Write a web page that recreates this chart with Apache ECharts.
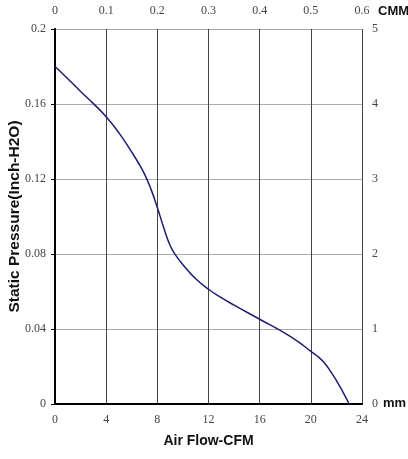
<!DOCTYPE html>
<html>
<head>
<meta charset="utf-8">
<script src="https://cdn.jsdelivr.net/npm/echarts@6/dist/echarts.min.js"></script>
<style>
html, body { margin: 0; padding: 0; background: #fff; }
#main { width: 408px; height: 459px; }
</style>
</head>
<body>
<div id="main"></div>
<script>
// 风量 (CFM) / 静压 (Inch-H2O)
var flowCfm  = [0, 1, 2, 3, 4, 5, 6, 6.5, 7, 7.5, 8, 8.5, 9, 9.5, 10, 11, 12, 13, 14, 16, 18, 19, 20, 20.5, 21, 21.5, 22, 22.5, 23];
var pressure = [0.18, 0.1735, 0.1667, 0.1602, 0.1532, 0.1446, 0.1343, 0.1288, 0.1226, 0.1146, 0.1048, 0.094, 0.0845, 0.0787, 0.0743, 0.0668, 0.0612, 0.0567, 0.0527, 0.0452, 0.0377, 0.0333, 0.0281, 0.0256, 0.0224, 0.0178, 0.0125, 0.0065, 0];

var serif = '"Liberation Serif", "DejaVu Serif", serif';
var sans = '"Liberation Sans", Arial, sans-serif';

function chart(id) {
    var myChart = echarts.init(document.getElementById(id));
    var data = [];
    for (var i = 0; i < flowCfm.length; i++) {
        data.push([flowCfm[i], pressure[i]]);
    }
    var labelStyle = { fontFamily: serif, fontSize: 12, color: '#444' };
    var option = {
        animation: false,
        grid: { left: 55, right: 46, top: 29, bottom: 55, outerBoundsMode: 'none' },
        xAxis: [
            {
                type: 'value', position: 'bottom',
                min: 0, max: 24, interval: 4,
                name: 'Air Flow-CFM', nameLocation: 'middle', nameGap: 30, nameMoveOverlap: false,
                nameTextStyle: { fontFamily: sans, fontWeight: 'bold', fontSize: 14, color: '#111' },
                axisLine: { show: true, lineStyle: { color: '#000', width: 2 } },
                axisTick: { show: false },
                axisLabel: Object.assign({ margin: 10 }, labelStyle),
                splitLine: { show: true, lineStyle: { color: '#444', width: 1 } }
            },
            {
                type: 'value', position: 'top',
                min: 0, max: 0.6, interval: 0.1,
                axisLine: { show: true, lineStyle: { color: '#000', width: 1.5 } },
                axisTick: { show: false },
                axisLabel: Object.assign({ margin: 12 }, labelStyle),
                splitLine: { show: false }
            }
        ],
        yAxis: [
            {
                type: 'value', position: 'left',
                min: 0, max: 0.2, interval: 0.04,
                name: 'Static Pressure(Inch-H2O)', nameLocation: 'middle', nameGap: 32, nameMoveOverlap: false,
                nameTextStyle: { fontFamily: sans, fontWeight: 'bold', fontSize: 15.5, color: '#111' },
                axisLine: { show: true, lineStyle: { color: '#000', width: 2 } },
                axisTick: { show: false },
                axisLabel: Object.assign({ margin: 9 }, labelStyle),
                splitLine: { show: true, lineStyle: { color: '#aaa', width: 1 } }
            },
            {
                type: 'value', position: 'right',
                min: 0, max: 5, interval: 1,
                axisLine: { show: true, lineStyle: { color: '#000', width: 1.5 } },
                axisTick: { show: true, inside: true, length: 4, lineStyle: { color: '#000' } },
                axisLabel: Object.assign({ margin: 10 }, labelStyle),
                splitLine: { show: false }
            }
        ],
        graphic: [
            { type: 'text', left: 378, top: 5, style: { text: 'CMM', font: 'bold 13px ' + sans, fill: '#111' } },
            { type: 'text', left: 383, top: 397, style: { text: 'mm', font: 'bold 13px ' + sans, fill: '#111' } }
        ],
        series: [{
            type: 'line',
            xAxisIndex: 0,
            yAxisIndex: 0,
            smooth: 0.5,
            showSymbol: false,
            lineStyle: { color: '#1c1c72', width: 1.5 },
            data: data
        }]
    };
    myChart.setOption(option);
}

chart('main');
</script>
</body>
</html>
